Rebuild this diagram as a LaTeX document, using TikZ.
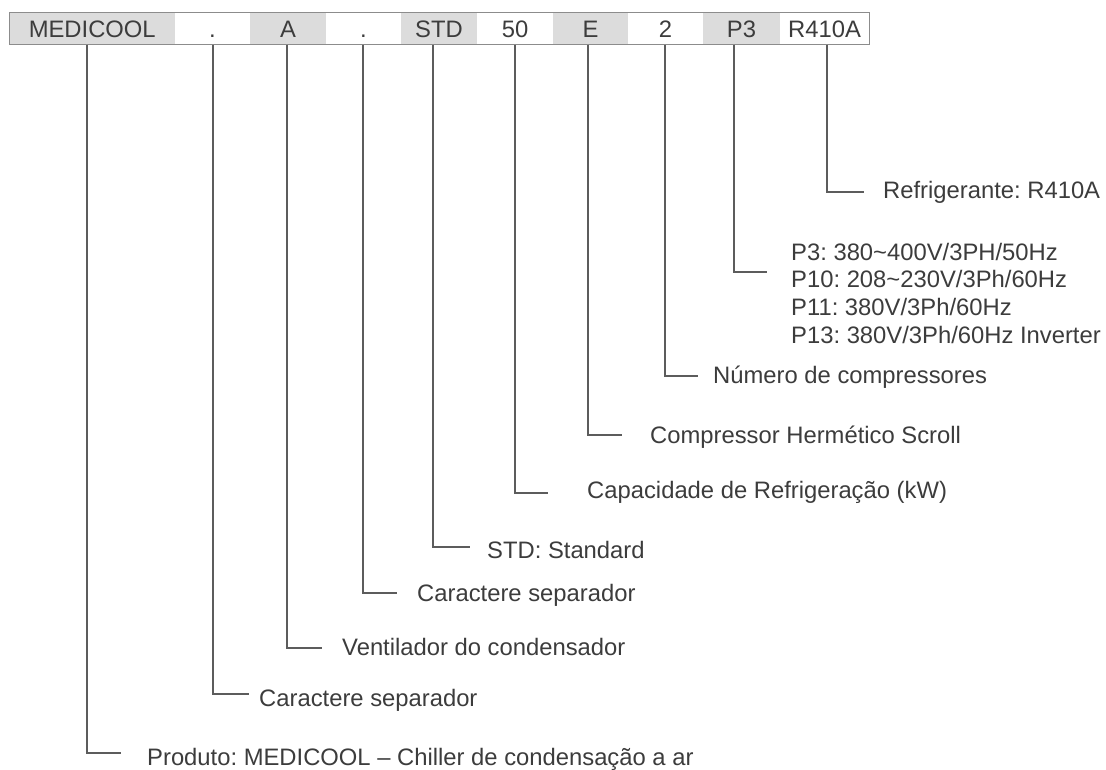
\documentclass[tikz,border=0pt]{standalone}
\usepackage{fontspec}
\setmainfont{Liberation Sans}
\frenchspacing
\definecolor{hdr}{HTML}{DCDCDC}
\definecolor{txt}{HTML}{3C3C3C}
\definecolor{ln}{HTML}{5C5C5C}
\definecolor{brd}{HTML}{8C8C8C}
\tikzset{
  cell/.style={inner sep=0pt, minimum height=31.8pt, text height=16.8pt, text depth=0pt, text=txt, font=\fontsize{23.8}{28}\selectfont},
  lbl/.style={anchor=base west, inner sep=0pt, text=txt, font=\fontsize{23.8}{28}\selectfont},
  conn/.style={draw=ln, line width=1.6pt}
}
\begin{document}
\begin{tikzpicture}[x=1pt,y=-1pt]
\useasboundingbox (0,0) rectangle (1106,769);
% header cells
\node[cell, fill=hdr, minimum width=165.5pt] (c1) at (92.25,28.6) {MEDICOOL};
\node[cell, minimum width=75pt] (c2) at (212.5,28.6) {.};
\node[cell, fill=hdr, minimum width=76pt] (c3) at (288,28.6) {A};
\node[cell, minimum width=75pt] (c4) at (363.5,28.6) {.};
\node[cell, fill=hdr, minimum width=76pt] (c5) at (439,28.6) {STD};
\node[cell, minimum width=76pt] (c6) at (515,28.6) {50};
\node[cell, fill=hdr, minimum width=75pt] (c7) at (590.5,28.6) {E};
\node[cell, minimum width=75pt] (c8) at (665.5,28.6) {2};
\node[cell, fill=hdr, minimum width=77pt] (c9) at (741.5,28.6) {P3};
\node[cell, minimum width=89pt] (c10) at (824.5,28.6) {R410A};
\draw[brd, line width=1pt] (c1.north west) rectangle (c10.south east);
% end points
\coordinate (e1) at (121,753);
\coordinate (e2) at (249,694);
\coordinate (e3) at (322,648);
\coordinate (e4) at (397,593);
\coordinate (e5) at (470,547);
\coordinate (e6) at (548,493);
\coordinate (e7) at (622,435);
\coordinate (e8) at (698,376);
\coordinate (e9) at (767,272);
\coordinate (e10) at (864,192);
% connectors
\draw[conn] ([xshift=-5.25pt]c1.south) |- (e1);
\draw[conn] ([xshift=0.5pt]c2.south) |- (e2);
\draw[conn] ([xshift=-1pt]c3.south) |- (e3);
\draw[conn] ([xshift=-0.5pt]c4.south) |- (e4);
\draw[conn] ([xshift=-6pt]c5.south) |- (e5);
\draw[conn] (c6.south) |- (e6);
\draw[conn] ([xshift=-2.5pt]c7.south) |- (e7);
\draw[conn] ([xshift=-0.5pt]c8.south) |- (e8);
\draw[conn] ([xshift=-7.5pt]c9.south) |- (e9);
\draw[conn] ([xshift=2.5pt]c10.south) |- (e10);
% labels
\node[lbl] (l1) at (147,765) {Produto: MEDICOOL – Chiller de condensação a ar};
\node[lbl] (l2) at (259,706) {Caractere separador};
\node[lbl] (l3) at (342,655) {Ventilador do condensador};
\node[lbl] (l4) at (417,601) {Caractere separador};
\node[lbl] (l5) at (487,558) {STD: Standard};
\node[lbl] (l6) at (587,498) {Capacidade de Refrigeração (kW)};
\node[lbl] (l7) at (650,443) {Compressor Hermético Scroll};
\node[lbl] (l8) at (713,383) {Número de compressores};
\node[lbl] (l9a) at (791,260) {P3: 380\textasciitilde 400V/3PH/50Hz};
\node[lbl] (l9b) at (791,287.5) {P10: 208\textasciitilde 230V/3Ph/60Hz};
\node[lbl] (l9c) at (791,315) {P11: 380V/3Ph/60Hz};
\node[lbl] (l9d) at (791,343) {P13: 380V/3Ph/60Hz Inverter};
\node[lbl] (l10) at (883,198) {Refrigerante: R410A};
\end{tikzpicture}
\end{document}
